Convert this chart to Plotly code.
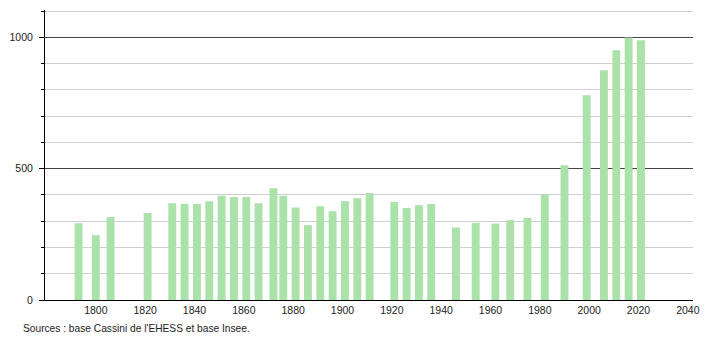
import plotly.graph_objects as go

years = [1793, 1800, 1806, 1821, 1831, 1836, 1841, 1846, 1851, 1856, 1861, 1866,
         1872, 1876, 1881, 1886, 1891, 1896, 1901, 1906, 1911, 1921, 1926, 1931,
         1936, 1946, 1954, 1962, 1968, 1975, 1982, 1990, 1999, 2006, 2011, 2016, 2021]
population = [292, 247, 316, 331, 368, 366, 365, 376, 397, 392, 392, 368,
              425, 397, 352, 285, 357, 338, 376, 387, 407, 373, 350, 361,
              365, 276, 293, 291, 304, 313, 403, 513, 779, 875, 951, 999, 989]
x_ticks = [1800, 1820, 1840, 1860, 1880, 1900, 1920, 1940, 1960, 1980, 2000, 2020, 2040]
source_text = "Sources : base Cassini de l'EHESS et base Insee."

fig = go.Figure()
fig.add_trace(go.Bar(
    x=years, y=population, width=3.2,
    marker=dict(color="rgb(170,226,170)", line=dict(width=0)),
    hoverinfo="x+y",
))

fig.update_layout(
    width=710, height=340,
    margin=dict(l=44, r=10, t=10, b=40),
    plot_bgcolor="white", paper_bgcolor="white",
    showlegend=False,
    font=dict(family="Liberation Sans, Arial, sans-serif", size=10.5, color="#222"),
    xaxis=dict(
        range=[1779.4, 2042.1],
        tickmode="array", tickvals=x_ticks, ticktext=[str(v) for v in x_ticks],
        showgrid=False, zeroline=False,
        showline=True, linecolor="black", linewidth=1,
        ticks="", tickfont=dict(size=10.5, color="#222"),
    ),
    yaxis=dict(
        range=[0, 1104],
        tickmode="linear", tick0=0, dtick=500,
        showgrid=True, gridcolor="#444", gridwidth=1,
        zeroline=False,
        showline=True, linecolor="black", linewidth=1,
        ticks="outside", ticklen=5, tickcolor="black",
        ticklabelstandoff=4,
        tickfont=dict(size=10.5, color="#222"),
        minor=dict(dtick=100, tick0=0, ticks="outside", ticklen=3, tickcolor="black",
                   showgrid=True, gridcolor="#cfcfcf", gridwidth=1),
    ),
    annotations=[dict(
        text=source_text, xref="paper", yref="paper",
        x=(20 - 44) / 656, y=(300 - 328) / 290,
        xanchor="left", yanchor="middle", showarrow=False,
        font=dict(size=10.2, color="#222"),
    )],
)

fig.write_html("out.html")
